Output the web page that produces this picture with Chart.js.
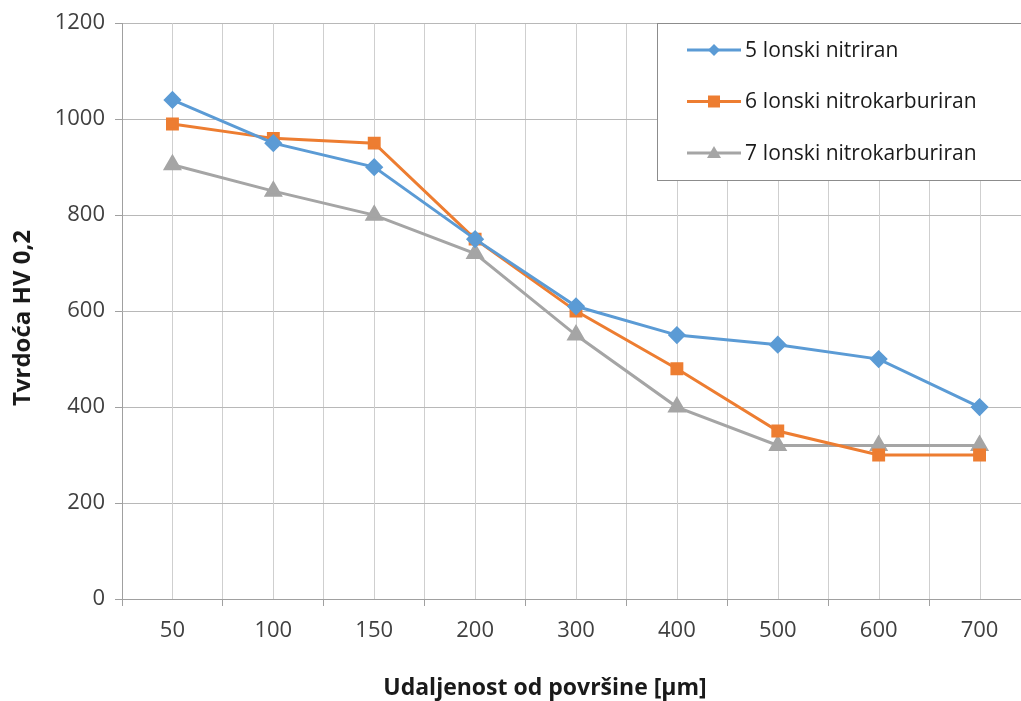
<!DOCTYPE html>
<html>
<head>
<meta charset="utf-8">
<script src="https://cdn.jsdelivr.net/npm/chart.js@4"></script>
<style>
  html, body { margin: 0; padding: 0; background: #fff; overflow: hidden; }
  #wrap { width: 1041px; height: 701px; }
</style>
</head>
<body>
<div id="wrap"><canvas id="hvChart" width="1041" height="701"></canvas></div>
<script>
const distances = ["50", "100", "150", "200", "300", "400", "500", "600", "700"];
const nitriran5 = [1040, 950, 900, 750, 610, 550, 530, 500, 400];
const nitrokarb6 = [990, 960, 950, 750, 600, 480, 350, 300, 300];
const nitrokarb7 = [905, 850, 800, 720, 550, 400, 320, 320, 320];
const seriesNames = ["5 Ionski nitriran", "6 Ionski nitrokarburiran", "7 Ionski nitrokarburiran"];
const xTitle = "Udaljenost od površine [µm]";
const yTitle = "Tvrdoća HV 0,2";

const FONT = "'Open Sans', 'Liberation Sans', sans-serif";
const TEXT = "#404040";

// extra vertical gridlines on the category centres
const centreLines = {
    id: "centreLines",
    beforeDatasetsDraw(chart) {
        const { ctx, chartArea, scales } = chart;
        ctx.save();
        ctx.strokeStyle = "#cfcfcf";
        ctx.lineWidth = 1;
        distances.forEach((d, i) => {
            const x = Math.round(scales.x.getPixelForValue(i)) + 0.5;
            ctx.beginPath();
            ctx.moveTo(x, chartArea.top);
            ctx.lineTo(x, chartArea.bottom);
            ctx.stroke();
        });
        ctx.restore();
    }
};

// axis titles, placed like the Excel original
const axisTitles = {
    id: "axisTitles",
    afterDraw(chart) {
        const { ctx } = chart;
        ctx.save();
        ctx.fillStyle = "#1a1a1a";
        ctx.textAlign = "center";
        ctx.textBaseline = "middle";
        ctx.font = "bold 23px " + FONT;
        ctx.fillText(xTitle, 545, 688);
        ctx.translate(23, 318);
        ctx.rotate(-Math.PI / 2);
        ctx.font = "bold 24px " + FONT;
        ctx.fillText(yTitle, 0, 0);
        ctx.restore();
    }
};

// legend box drawn inside the plot area, top right
const boxLegend = {
    id: "boxLegend",
    afterDraw(chart) {
        const { ctx } = chart;
        const left = 657.5, top = 23.5, bottom = 180.5;
        ctx.save();
        ctx.fillStyle = "#fff";
        ctx.fillRect(left, top, 400, bottom - top);
        ctx.strokeStyle = "#8c8c8c";
        ctx.lineWidth = 1;
        ctx.strokeRect(left, top, 400, bottom - top);
        chart.data.datasets.forEach((ds, i) => {
            const y = 50 + i * 51.5;
            ctx.strokeStyle = ds.borderColor;
            ctx.lineWidth = 3;
            ctx.beginPath();
            ctx.moveTo(687, y);
            ctx.lineTo(741, y);
            ctx.stroke();
            ctx.fillStyle = ds.backgroundColor;
            ctx.beginPath();
            if (ds.pointStyle === "rectRot") {
                ctx.moveTo(714, y - 6); ctx.lineTo(720, y); ctx.lineTo(714, y + 6); ctx.lineTo(708, y);
            } else if (ds.pointStyle === "rect") {
                ctx.rect(708, y - 6, 12, 12);
            } else {
                ctx.moveTo(714, y - 7); ctx.lineTo(721, y + 5); ctx.lineTo(707, y + 5);
            }
            ctx.closePath();
            ctx.fill();
            ctx.fillStyle = "#1a1a1a";
            ctx.font = "21px " + FONT;
            ctx.textBaseline = "middle";
            ctx.fillText(ds.label, 745, y + 1);
        });
        ctx.restore();
    }
};

new Chart(document.getElementById("hvChart"), {
    type: "line",
    data: {
        labels: distances,
        datasets: [
            { label: seriesNames[0], data: nitriran5, borderColor: "#5B9BD5", backgroundColor: "#5B9BD5",
              pointStyle: "rectRot", pointRadius: 7, borderWidth: 3, tension: 0 },
            { label: seriesNames[1], data: nitrokarb6, borderColor: "#ED7D31", backgroundColor: "#ED7D31",
              pointStyle: "rect", pointRadius: 7, borderWidth: 3, tension: 0 },
            { label: seriesNames[2], data: nitrokarb7, borderColor: "#A5A5A5", backgroundColor: "#A5A5A5",
              pointStyle: "triangle", pointRadius: 8, borderWidth: 3, tension: 0 }
        ]
    },
    options: {
        responsive: false,
        animation: false,
        layout: { padding: { top: 13, right: 10, left: 0, bottom: 0 } },
        plugins: { legend: { display: false }, tooltip: { enabled: false } },
        scales: {
            x: {
                offset: true,
                grid: { offset: true, color: "#cfcfcf", tickLength: 7, tickColor: "#a0a0a0" },
                border: { color: "#a0a0a0" },
                ticks: { color: TEXT, font: { family: FONT, size: 22 }, padding: 12 },
                afterFit(scale) { scale.height = 102; }
            },
            y: {
                min: 0, max: 1200,
                ticks: { stepSize: 200, color: TEXT, font: { family: FONT, size: 22 }, padding: 10,
                         callback: v => String(v) },
                grid: { color: "#b8b8b8", tickLength: 7, tickColor: "#a0a0a0" },
                border: { color: "#a0a0a0" },
                afterFit(scale) { scale.width = 122; }
            }
        }
    },
    plugins: [centreLines, boxLegend, axisTitles]
});
</script>
</body>
</html>
